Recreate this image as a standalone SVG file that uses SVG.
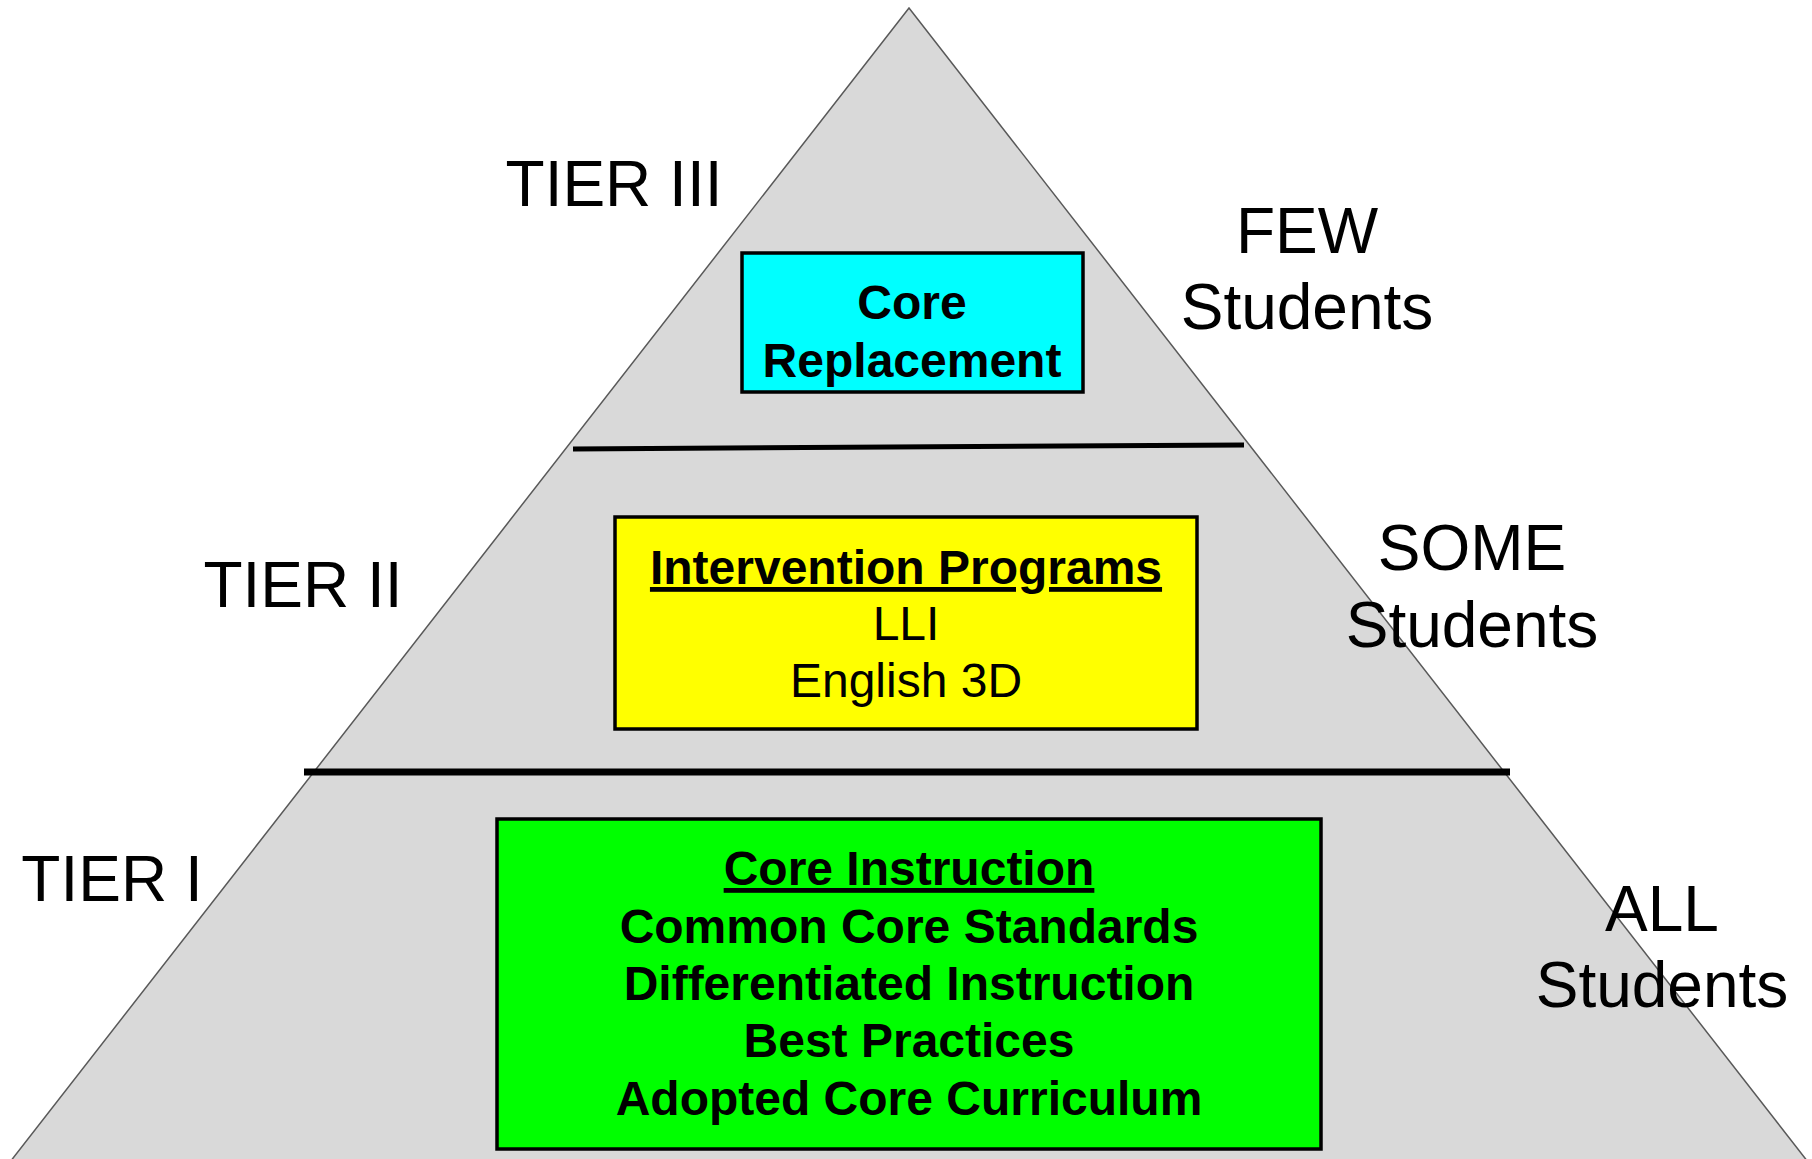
<svg xmlns="http://www.w3.org/2000/svg" width="1812" height="1159" viewBox="0 0 1812 1159">
<style>
.lbl{font-family:"Liberation Sans",Arial,sans-serif;font-size:64px;fill:#000;text-anchor:middle}
.bx{font-family:"Liberation Sans",Arial,sans-serif;font-size:48px;fill:#000;text-anchor:middle}
.b{font-weight:bold}
.box{stroke:#000;stroke-width:3.5}
</style>
<rect width="1812" height="1159" fill="#fff"/>
<g id="pyramid">
<polygon points="909,8 10,1162 1808,1162" fill="#D9D9D9" stroke="#595959" stroke-width="1.5"/>
</g>
<g id="connectors">
<line x1="573" y1="449" x2="1244" y2="445" stroke="#000" stroke-width="5"/>
<line x1="304" y1="772" x2="1510" y2="772" stroke="#000" stroke-width="7"/>
</g>
<g id="tier3">
<rect class="box" x="742" y="253" width="341" height="139" fill="#00FFFF"/>
<text class="bx b" x="912" y="319" font-size="47.5">Core</text>
<text class="bx b" x="912" y="377" font-size="47.5">Replacement</text>
</g>
<g id="tier2">
<rect class="box" x="615" y="517" width="582" height="212" fill="#FFFF00"/>
<text class="bx b" x="906" y="584" text-decoration="underline">Intervention Programs</text>
<text class="bx" x="906" y="640">LLI</text>
<text class="bx" x="906" y="697">English 3D</text>
</g>
<g id="tier1">
<rect class="box" x="497" y="819" width="824" height="330" fill="#00FF00"/>
<text class="bx b" x="909" y="885" text-decoration="underline">Core Instruction</text>
<text class="bx b" x="909" y="943">Common Core Standards</text>
<text class="bx b" x="909" y="1000">Differentiated Instruction</text>
<text class="bx b" x="909" y="1057">Best Practices</text>
<text class="bx b" x="909" y="1115">Adopted Core Curriculum</text>
</g>
<g id="label-tier3"><text class="lbl" x="614" y="206">TIER III</text></g>
<g id="label-tier2"><text class="lbl" x="303" y="607">TIER II</text></g>
<g id="label-tier1"><text class="lbl" x="112" y="901">TIER I</text></g>
<g id="label-few">
<text class="lbl" x="1307" y="253">FEW</text>
<text class="lbl" x="1307" y="329">Students</text>
</g>
<g id="label-some">
<text class="lbl" x="1472" y="570">SOME</text>
<text class="lbl" x="1472" y="647">Students</text>
</g>
<g id="label-all">
<text class="lbl" x="1662" y="931">ALL</text>
<text class="lbl" x="1662" y="1007">Students</text>
</g>
</svg>
